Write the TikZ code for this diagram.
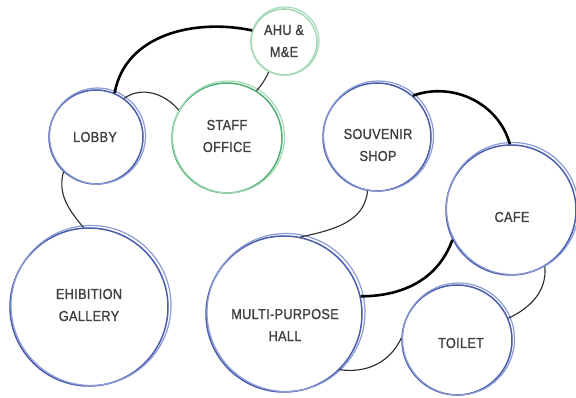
\documentclass[tikz,border=0pt]{standalone}
\usepackage{fontspec}
\setmainfont{Liberation Sans}
\newfontfamily\roomfont[FakeStretch=0.88,FakeBold=1.2,LetterSpace=2]{Liberation Sans}
\definecolor{bluedark}{HTML}{4A5CAC}
\definecolor{bluelight}{HTML}{8A9BD6}
\definecolor{greendark}{HTML}{4FAF74}
\definecolor{greenlight}{HTML}{A6D9B8}
\definecolor{txtgray}{HTML}{404040}
\definecolor{linegray}{HTML}{2A2A2A}
\begin{document}
\begin{tikzpicture}[x=1pt,y=-1pt,
  bluering/.style={circle, draw=bluedark, line width=1.5pt, fill=white, inner sep=0pt, minimum size=#1},
  greenring/.style={circle, draw=greendark, line width=1.5pt, fill=white, inner sep=0pt, minimum size=#1},
  paleblue/.style={draw=bluelight, line width=1.2pt},
  palegreen/.style={draw=greenlight, line width=1.2pt},
  roomtext/.style={align=center, text=txtgray, font=\roomfont\fontsize{14.5}{22}\selectfont, inner sep=0pt},
  thinlink/.style={draw=linegray, line width=1.1pt},
  thicklink/.style={draw=black, line width=2.6pt},
]
\useasboundingbox[fill=white] (0,0) rectangle (576,398);

% rooms
\node[bluering=94pt]  (lobby)   at (96,137)  {};
\node[greenring=110pt] (staff)  at (227,138) {};
\node[circle, draw=greenlight, line width=1.6pt, fill=white, inner sep=0pt, minimum size=66pt] (ahu) at (284,42) {};
\node[bluering=108pt] (souv)    at (377,137) {};
\node[bluering=130pt] (cafe)    at (511,210) {};
\node[bluering=158pt] (gallery) at (89,307)  {};
\node[bluering=156pt] (hall)    at (284,314) {};
\node[bluering=110pt] (toilet)  at (457,340) {};

% secondary sketch rings
\draw[paleblue]  ([shift={(1.5,-1)}]lobby.center) circle (48);
\draw[palegreen] ([shift={(1.5,-1)}]staff.center) circle (56);
\draw[palegreen] ([shift={(1,-1)}]ahu.center) circle (34);
\draw[paleblue]  ([shift={(1.5,-1)}]souv.center) circle (55);
\draw[paleblue]  ([shift={(1.5,-1.5)}]cafe.center) circle (66);
\draw[paleblue]  ([shift={(2,-1.5)}]gallery.center) circle (80);
\draw[paleblue]  ([shift={(2,-1.5)}]hall.center) circle (79);
\draw[paleblue]  ([shift={(1.5,-1)}]toilet.center) circle (56);

% labels
\node[roomtext] (lobbyT)   at (95,137)  {LOBBY};
\node[roomtext] (staffT)   at (227,136) {STAFF\\OFFICE};
\node[roomtext] (ahuT)     at (284,41)  {AHU \&\\M\&E};
\node[roomtext] (souvT)    at (378,145) {SOUVENIR\\SHOP};
\node[roomtext] (cafeT)    at (512,217) {CAFE};
\node[roomtext] (galleryT) at (89,305)  {EHIBITION\\GALLERY};
\node[roomtext] (hallT)    at (285,325) {MULTI-PURPOSE\\HALL};
\node[roomtext] (toiletT)  at (461,343) {TOILET};

% connectors
\draw[thicklink] (lobby.67) to[out=80,in=168] (ahu.160);
\draw[thinlink]  (lobby.54) to[out=35,in=130] (staff.150);
\draw[thinlink]  (staff.58) to[bend right=8] (ahu.243);
\draw[thinlink]  (lobby.227) to[out=255,in=130] (gallery.94);
\draw[thicklink] (souv.49) to[out=20,in=105] (cafe.91);
\draw[thinlink]  (souv.260) to[out=265,in=12] (hall.78);
\draw[thicklink] (hall.13) to[out=0,in=250] (cafe.207);
\draw[thinlink]  (cafe.301) to[out=275,in=25] (toilet.23);
\draw[thinlink]  (hall.315) to[out=-8,in=245] (toilet.178);
\end{tikzpicture}
\end{document}
